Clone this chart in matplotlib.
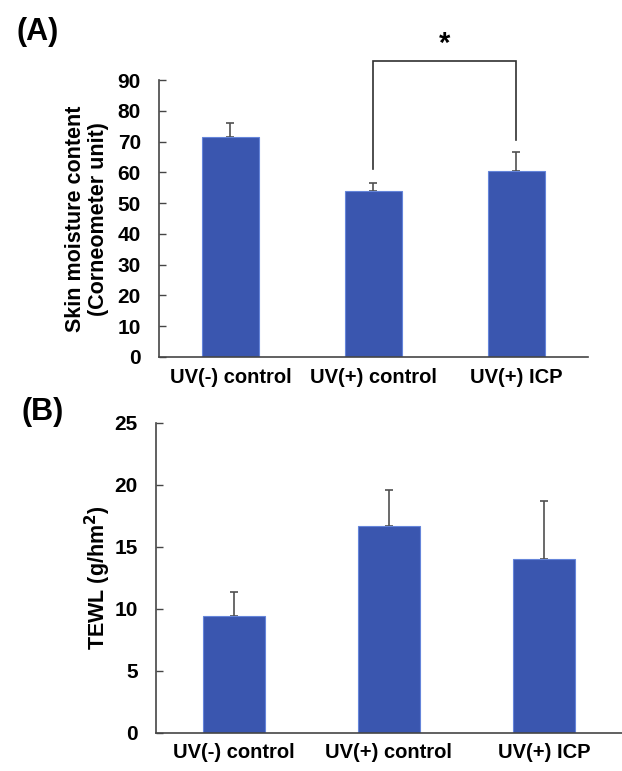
import numpy as np
import matplotlib
matplotlib.use("Agg")
import matplotlib.pyplot as plt

plt.rcParams['font.family'] = ['Liberation Sans', 'DejaVu Sans']
plt.rcParams['font.weight'] = 'bold'
plt.rcParams['mathtext.default'] = 'bf'

groups = ['UV(-) control', 'UV(+) control', 'UV(+) ICP']

# panel A: skin moisture
moist_mean = [71.5, 54.0, 60.5]
moist_err = [4.5, 2.7, 6.0]

# panel B: TEWL
tewl_mean = [9.4, 16.7, 14.0]
tewl_err = [2.0, 2.9, 4.7]

bar_color = '#3A56AF'
axis_color = '#454545'

fig = plt.figure(figsize=(6.22, 7.71), dpi=100)
axA = fig.add_axes([0.2556, 0.537, 0.6897, 0.359])
axB = fig.add_axes([0.2508, 0.0493, 0.749, 0.4021])


def draw(ax, means, errs, ylim, yticks, xpad):
    x = np.arange(len(groups))
    ax.bar(x, means, width=0.4, color=bar_color, edgecolor='#6585DA', linewidth=0.8, zorder=2)
    ax.errorbar(x, means, yerr=[np.zeros(len(errs)), errs], fmt='none',
                ecolor='#505050', elinewidth=1.2, capsize=2.8, capthick=1.2, zorder=1)
    ax.set_xlim(-0.5, 2.5)
    ax.set_ylim(*ylim)
    ax.set_yticks(yticks)
    ax.set_xticks(x)
    ax.set_xticklabels(groups, fontsize=14.5, fontweight='bold')
    ax.tick_params(axis='x', length=0, pad=xpad)
    ax.tick_params(axis='y', direction='in', length=5, width=1, color=axis_color,
                   labelsize=15, pad=13)
    for lab in ax.get_yticklabels():
        lab.set_fontweight('bold')
    for s in ['top', 'right']:
        ax.spines[s].set_visible(False)
    for s in ['left', 'bottom']:
        ax.spines[s].set_color(axis_color)
        ax.spines[s].set_linewidth(1.2)


draw(axA, moist_mean, moist_err, (0, 90), np.arange(0, 91, 10), 8)
draw(axB, tewl_mean, tewl_err, (0, 25), np.arange(0, 26, 5), 7)

axA.set_ylabel('Skin moisture content\n(Corneometer unit)', fontsize=15.5,
               fontweight='bold', labelpad=6, linespacing=1.15)
axB.set_ylabel('TEWL (g/hm$^{2}$)', fontsize=15.5, fontweight='bold', labelpad=1)

# significance bracket between UV(+) control and UV(+) ICP
axA.plot([1, 1, 2, 2], [61, 96.3, 96.3, 70.5], color='#303030', lw=1.2,
         clip_on=False, solid_joinstyle='miter')
axA.text(1.5, 97.2, '*', ha='center', va='bottom', fontsize=21, fontweight='bold',
         clip_on=False)

fig.text(0.026, 0.958, '(A)', fontsize=22, fontweight='bold', va='center')
fig.text(0.034, 0.466, '(B)', fontsize=22, fontweight='bold', va='center')

fig.savefig('out.png', dpi=100)
